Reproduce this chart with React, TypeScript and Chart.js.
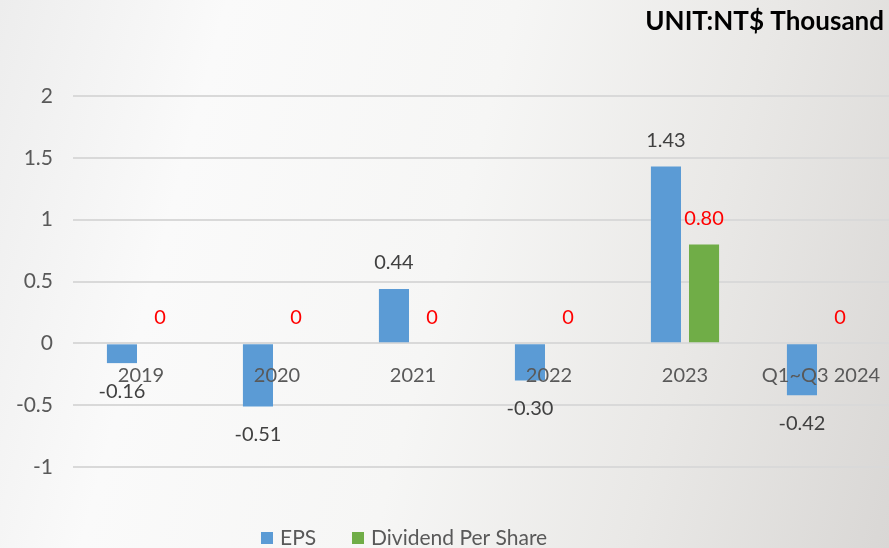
import React, { useEffect, useRef } from "react";
import { Chart, registerables } from "chart.js";

Chart.register(...registerables);

const categories = ["2019", "2020", "2021", "2022", "2023", "Q1~Q3 2024"];
const epsValues = [-0.16, -0.51, 0.44, -0.3, 1.43, -0.42];
const dividendValues = [0, 0, 0, 0, 0.8, 0];
const epsLabels = ["-0.16", "-0.51", "0.44", "-0.30", "1.43", "-0.42"];
const dividendLabels = ["0", "0", "0", "0", "0.80", "0"];
const seriesNames = ["EPS", "Dividend Per Share"];
const unitTitle = "UNIT:NT$ Thousand";
const yMin = -1;
const yMax = 2;
const yStep = 0.5;

const BLUE = "#5B9BD5";
const GREEN = "#70AD47";
const FONT = "Lato, 'Open Sans', sans-serif";

const labelPlugin = {
  id: "valueLabels",
  afterDatasetsDraw(chart: any) {
    const ctx = chart.ctx;
    ctx.save();
    ctx.font = `20px ${FONT}`;
    ctx.textAlign = "center";
    ctx.textBaseline = "middle";
    chart.data.datasets.forEach((ds: any, di: number) => {
      const meta = chart.getDatasetMeta(di);
      const labels = di === 0 ? epsLabels : dividendLabels;
      ctx.fillStyle = di === 0 ? "#404040" : "#FF0000";
      meta.data.forEach((bar: any, i: number) => {
        const v = ds.data[i];
        const p = bar.getProps(["x", "y"], true);
        const ly = v >= 0 ? p.y - 26 : p.y + 28;
        ctx.fillText(labels[i], p.x, ly);
      });
    });
    ctx.restore();
  },
};

const decorPlugin = {
  id: "decor",
  afterDraw(chart: any) {
    const ctx = chart.ctx;
    ctx.save();
    // title
    ctx.font = `bold 26px ${FONT}`;
    ctx.fillStyle = "#000000";
    ctx.textAlign = "right";
    ctx.textBaseline = "middle";
    ctx.fillText(unitTitle, chart.width - 5, 22);
    // legend
    ctx.font = `21px ${FONT}`;
    ctx.textAlign = "left";
    const ly = 538;
    const items = [
      { x: 261, color: BLUE, text: seriesNames[0] },
      { x: 352, color: GREEN, text: seriesNames[1] },
    ];
    items.forEach((it) => {
      ctx.fillStyle = it.color;
      ctx.fillRect(it.x, ly - 6, 12, 12);
      ctx.fillStyle = "#595959";
      ctx.fillText(it.text, it.x + 19, ly);
    });
    ctx.restore();
  },
};

export default function App() {
  const ref = useRef<HTMLCanvasElement | null>(null);
  useEffect(() => {
    if (!ref.current) return;
    const chart = new Chart(ref.current, {
      type: "bar",
      data: {
        labels: categories,
        datasets: [
          {
            label: seriesNames[0],
            data: epsValues,
            backgroundColor: BLUE,
            categoryPercentage: 0.56,
            barPercentage: 0.79,
          },
          {
            label: seriesNames[1],
            data: dividendValues,
            backgroundColor: GREEN,
            categoryPercentage: 0.56,
            barPercentage: 0.79,
          },
        ],
      },
      options: {
        responsive: false,
        animation: false,
        layout: { padding: { top: 96, bottom: 81, left: 0, right: 0 } },
        plugins: {
          legend: { display: false },
          tooltip: { enabled: false },
          title: { display: false },
        },
        scales: {
          x: {
            position: { y: 0 } as any,
            afterFit: (s: any) => {
              s.paddingLeft = 0;
              s.paddingRight = 0;
            },
            grid: { display: false, drawTicks: false },
            border: { display: false },
            ticks: {
              z: 1,
              color: "#595959",
              font: { family: FONT, size: 20 },
              padding: 20,
              maxRotation: 0,
              autoSkip: false,
            },
          },
          y: {
            min: yMin,
            max: yMax,
            afterFit: (s: any) => {
              s.width = 73;
            },
            grid: { color: "#d9d9d9", lineWidth: 2, drawTicks: false },
            border: { display: false },
            ticks: {
              stepSize: yStep,
              color: "#595959",
              font: { family: FONT, size: 21 },
              padding: 20,
              callback: (v: any) => String(Number(v)),
            },
          },
        },
      },
      plugins: [labelPlugin, decorPlugin],
    });
    return () => chart.destroy();
  }, []);

  return (
    <div
      style={{
        position: "absolute",
        left: 0,
        top: 0,
        width: 889,
        height: 548,
        background:
          "linear-gradient(105deg, #ededed 0%, #fafafa 22%, #f6f6f5 50%, #e9e8e6 75%, #d9d7d5 100%)",
      }}
    >
      <canvas ref={ref} width={889} height={548} style={{ display: "block" }} />
    </div>
  );
}
